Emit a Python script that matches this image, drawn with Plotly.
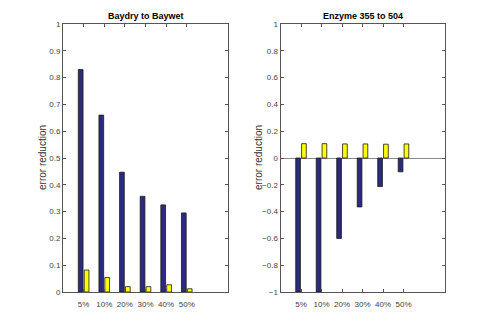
import plotly.graph_objects as go

categories = ["5%", "10%", "20%", "30%", "40%", "50%"]
positions = [1, 2, 3, 4, 5, 6]

left_title = "Baydry to Baywet"
left_blue = [0.83, 0.66, 0.447, 0.357, 0.325, 0.295]
left_yellow = [0.082, 0.054, 0.02, 0.02, 0.027, 0.012]

right_title = "Enzyme 355 to 504"
right_blue = [-1.0, -1.0, -0.6, -0.365, -0.213, -0.103]
right_yellow = [0.107, 0.107, 0.105, 0.105, 0.103, 0.105]
y_label = "error reduction"

BLUE = "#2c2a7c"
YELLOW = "#ffff00"
EDGE = "#1a1a1a"
AXC = "#555555"
FONT = "Liberation Sans, Arial, sans-serif"

# page body has an 8px margin; figure sized to fit inside the window
OFF = 8
W, H = 491 - 2 * OFF, 327 - 2 * OFF


def px(x):
    return (x - OFF) / W


def py(y):
    return 1 - (y - OFF) / H


bar_w = 0.2286
off_blue = -0.257
off_yel = 0.029

fig = go.Figure()


def add_pair(blue, yellow, xa, ya):
    fig.add_trace(go.Bar(x=positions, y=blue, width=bar_w, offset=off_blue,
                         marker=dict(color=BLUE, line=dict(color=EDGE, width=0.8)),
                         xaxis=xa, yaxis=ya, showlegend=False))
    fig.add_trace(go.Bar(x=positions, y=yellow, width=bar_w, offset=off_yel,
                         marker=dict(color=YELLOW, line=dict(color=EDGE, width=0.8)),
                         xaxis=xa, yaxis=ya, showlegend=False))


add_pair(left_blue, left_yellow, "x", "y")
add_pair(right_blue, right_yellow, "x2", "y2")

ydom = [py(292), py(24)]
xcommon = dict(range=[0, 8], tickvals=positions, ticktext=categories,
               ticks="inside", ticklen=3, tickcolor=AXC, showgrid=False,
               showline=True, linecolor=AXC, linewidth=1, mirror="ticks",
               zeroline=False, automargin=False, ticklabelstandoff=4,
               tickfont=dict(size=8, color="#444", family=FONT))
ycommon = dict(ticks="inside", ticklen=3, tickcolor=AXC, showgrid=False,
               showline=True, linecolor=AXC, linewidth=1, mirror="ticks",
               automargin=False,
               tickfont=dict(size=8, color="#444", family=FONT))

ann = []
for title, x0, x1 in [(left_title, 63, 228), (right_title, 280.5, 444.5)]:
    ann.append(dict(text="<b>" + title + "</b>", x=px((x0 + x1) / 2), y=py(16),
                    xref="paper", yref="paper", showarrow=False,
                    xanchor="center", yanchor="middle",
                    font=dict(size=9, color="black", family=FONT)))
for xl in [42, 258]:
    ann.append(dict(text=y_label, x=px(xl), y=py(158), textangle=-90,
                    xref="paper", yref="paper", showarrow=False,
                    xanchor="center", yanchor="middle",
                    font=dict(size=10, color="#333", family=FONT)))

fig.update_layout(
    width=W, height=H,
    margin=dict(l=0, r=0, t=0, b=0),
    paper_bgcolor="white", plot_bgcolor="white",
    barmode="overlay",
    xaxis=dict(domain=[px(63), px(228)], anchor="y", **xcommon),
    xaxis2=dict(domain=[px(280.5), px(444.5)], anchor="y2", **xcommon),
    yaxis=dict(domain=ydom, anchor="x", range=[0, 1], dtick=0.1, tickformat="~g",
               zeroline=False, **ycommon),
    yaxis2=dict(domain=ydom, anchor="x2", range=[-1, 1], dtick=0.2, tickformat="~g",
                zeroline=True, zerolinecolor="#888888", zerolinewidth=1, **ycommon),
    annotations=ann,
)

fig.write_html("out.html")
